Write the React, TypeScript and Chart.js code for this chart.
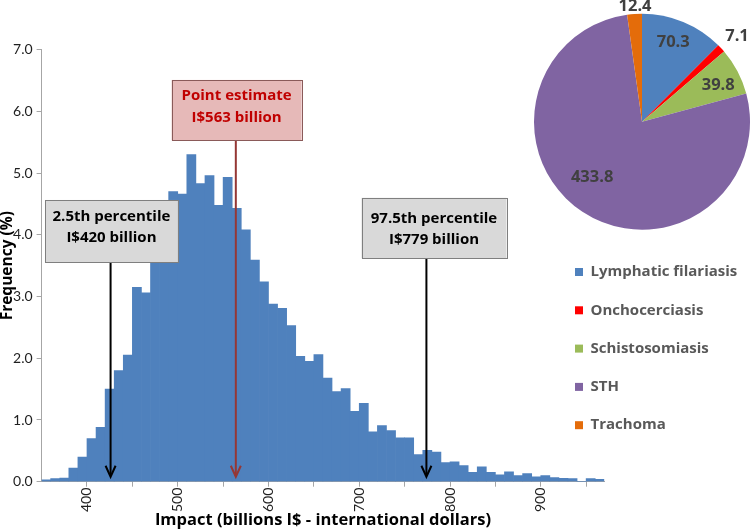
import React, { useEffect, useRef } from "react";
import { Chart, registerables } from "chart.js";

Chart.register(...registerables);

// ---------- Histogram data ----------
const BIN_LEFT_EDGES = [
  350, 360, 370, 380, 390, 400, 410, 420, 430, 440,
  450, 460, 470, 480, 490, 500, 510, 520, 530, 540,
  550, 560, 570, 580, 590, 600, 610, 620, 630, 640,
  650, 660, 670, 680, 690, 700, 710, 720, 730, 740,
  750, 760, 770, 780, 790, 800, 810, 820, 830, 840,
  850, 860, 870, 880, 890, 900, 910, 920, 930, 940,
  950, 960,
];
const BIN_WIDTH = 10;
const FREQUENCY = [
  0.03, 0.05, 0.06, 0.22, 0.4, 0.7, 0.88, 1.5, 1.8, 2.05,
  3.15, 3.06, 3.65, 4.15, 4.7, 4.66, 5.3, 4.83, 4.96, 4.48,
  4.93, 4.43, 4.08, 3.59, 3.24, 2.88, 2.81, 2.53, 2.03, 1.95,
  2.06, 1.68, 1.46, 1.51, 1.14, 1.27, 0.81, 0.91, 0.83, 0.71,
  0.71, 0.44, 0.51, 0.48, 0.31, 0.32, 0.26, 0.15, 0.24, 0.15,
  0.11, 0.16, 0.1, 0.13, 0.08, 0.1, 0.065, 0.055, 0.05, 0,
  0.05, 0.04,
];
const X_MIN = 350;
const X_MAX = 970;
const X_TICKS = [400, 450, 500, 550, 600, 650, 700, 750, 800, 850, 900, 950];
const Y_MIN = 0;
const Y_MAX = 7;
const X_TITLE = "Impact (billions I$ - international dollars)";
const Y_TITLE = "Frequency (%)";

// annotation texts and the impact values the arrows point at
const ANNOT_TEXT = [
  ["2.5th percentile", "I$420 billion"],
  ["Point estimate", "I$563 billion"],
  ["97.5th percentile", "I$779 billion"],
];
const ARROW_AT = [426, 564, 774];

// ---------- Pie data ----------
const PIE_LABELS = ["Lymphatic filariasis", "Onchocerciasis", "Schistosomiasis", "STH", "Trachoma"];
const PIE_VALUES = [70.3, 7.1, 39.8, 433.8, 12.4];
const PIE_COLORS = ["#4F81BD", "#FF0000", "#9BBB59", "#8064A2", "#E46C0A"];

// ---------- Styles / placement ----------
const FONT = "Lato, 'Open Sans', 'DejaVu Sans', sans-serif";
const BOLD_FONT = "'Open Sans', 'Noto Sans', 'DejaVu Sans', sans-serif";
const BOX_STYLE = [
  { x0: 353.7, x1: 500.2, y0: 3.56, y1: 4.565, fill: "#D9D9D9", stroke: "#7F7F7F", text: "#000000", arrow: "#000000", t1: 16.7 },
  { x0: 493.3, x1: 636.5, y0: 5.53, y1: 6.51, fill: "#E6B9B8", stroke: "#8A5A59", text: "#C00000", arrow: "#953735", t1: 16 },
  { x0: 702.5, x1: 862.2, y0: 3.62, y1: 4.6, fill: "#D9D9D9", stroke: "#7F7F7F", text: "#000000", arrow: "#000000", t1: 20.6 },
];
const ARROW_TIP = 0.08;
const PIE_LABEL_PLACE = [
  { r: 0.79, da: -1 },
  { r: 1.18, da: 1 },
  { r: 0.78, da: 2.6 },
  { r: 0.69, da: 8.5 },
  { r: 1.07, da: 0.5 },
];

const annotationPlugin = {
  id: "percentileAnnotations",
  afterDatasetsDraw(chart: any) {
    const { ctx } = chart;
    const xs = chart.scales.x;
    const ys = chart.scales.y;
    ctx.save();
    BOX_STYLE.forEach((b, i) => {
      const left = xs.getPixelForValue(b.x0);
      const right = xs.getPixelForValue(b.x1);
      const top = ys.getPixelForValue(b.y1);
      const bottom = ys.getPixelForValue(b.y0);
      // arrow
      const ax = xs.getPixelForValue(ARROW_AT[i]);
      const tip = ys.getPixelForValue(ARROW_TIP);
      ctx.strokeStyle = b.arrow;
      ctx.lineWidth = 2;
      ctx.lineCap = "butt";
      ctx.lineJoin = "miter";
      ctx.beginPath();
      ctx.moveTo(ax, bottom);
      ctx.lineTo(ax, tip - 1);
      ctx.stroke();
      ctx.beginPath();
      ctx.moveTo(ax - 5, tip - 11);
      ctx.lineTo(ax, tip);
      ctx.lineTo(ax + 5, tip - 11);
      ctx.stroke();
      // box
      ctx.fillStyle = b.fill;
      ctx.fillRect(left, top, right - left, bottom - top);
      ctx.strokeStyle = b.stroke;
      ctx.lineWidth = 1;
      ctx.strokeRect(Math.round(left) + 0.5, Math.round(top) + 0.5, Math.round(right - left), Math.round(bottom - top));
      // text
      ctx.fillStyle = b.text;
      ctx.font = `bold 15px ${BOLD_FONT}`;
      ctx.textAlign = "center";
      ctx.textBaseline = "middle";
      const cx = (left + right) / 2;
      ANNOT_TEXT[i].forEach((line, j) => {
        ctx.fillText(line, cx, top + b.t1 + j * 21.5);
      });
    });
    ctx.restore();
  },
};

const pieLabelPlugin = {
  id: "pieLabels",
  afterDatasetsDraw(chart: any) {
    const { ctx } = chart;
    const meta = chart.getDatasetMeta(0);
    ctx.save();
    ctx.font = `bold 16.5px ${BOLD_FONT}`;
    ctx.fillStyle = "#404040";
    ctx.textAlign = "center";
    ctx.textBaseline = "middle";
    meta.data.forEach((arc: any, i: number) => {
      const p = arc.getProps(["x", "y", "startAngle", "endAngle", "outerRadius"], true);
      const place = PIE_LABEL_PLACE[i];
      const mid = (p.startAngle + p.endAngle) / 2 + (place.da * Math.PI) / 180;
      const r = p.outerRadius * place.r;
      ctx.fillText(PIE_VALUES[i].toFixed(1), p.x + Math.cos(mid) * r, p.y + Math.sin(mid) * r);
    });
    ctx.restore();
  },
};

const pieLegendPlugin = {
  id: "pieLegend",
  afterDraw(chart: any) {
    const { ctx } = chart;
    const labels = chart.data.labels as string[];
    const colors = chart.data.datasets[0].backgroundColor as string[];
    ctx.save();
    ctx.font = `bold 15px ${BOLD_FONT}`;
    ctx.textAlign = "left";
    ctx.textBaseline = "middle";
    labels.forEach((lab, i) => {
      const y = 272 + i * 38.3;
      ctx.fillStyle = colors[i];
      ctx.fillRect(55, y - 4, 8, 8);
      ctx.fillStyle = "#595959";
      ctx.fillText(lab, 70.5, y);
    });
    ctx.restore();
  },
};

export default function App() {
  const histRef = useRef<HTMLCanvasElement>(null);
  const pieRef = useRef<HTMLCanvasElement>(null);

  useEffect(() => {
    const axisColor = "#A6A6A6";
    const hist = new Chart(histRef.current as HTMLCanvasElement, {
      type: "bar",
      data: {
        datasets: [
          {
            data: BIN_LEFT_EDGES.map((e, i) => ({ x: e + BIN_WIDTH / 2, y: FREQUENCY[i] })),
            backgroundColor: "#4F81BD",
            borderWidth: 0,
            barPercentage: 1,
            categoryPercentage: 1,
          } as any,
        ],
      },
      options: {
        responsive: false,
        animation: false,
        devicePixelRatio: 1,
        layout: { padding: { left: 0, top: 49.7, right: 145.7, bottom: 0 } },
        plugins: { legend: { display: false }, tooltip: { enabled: false } },
        scales: {
          x: {
            type: "linear",
            min: X_MIN,
            max: X_MAX,
            offset: false,
            afterBuildTicks: (s: any) => {
              s.ticks = X_TICKS.map((v) => ({ value: v }));
            },
            afterFit: (s: any) => {
              s.height = 47.3;
            },
            ticks: {
              autoSkip: false,
              minRotation: 90,
              maxRotation: 90,
              padding: 1,
              color: "#1F1F1F",
              font: { family: FONT, size: 14 },
              callback: (v: any) => (Number(v) % 100 === 0 ? String(v) : ""),
            },
            grid: { display: true, drawOnChartArea: false, drawTicks: true, tickLength: 5, color: axisColor, offset: false },
            border: { display: true, color: axisColor, width: 1 },
            title: {
              display: true,
              text: X_TITLE,
              color: "#000",
              font: { family: BOLD_FONT, size: 16.5, weight: "bold", lineHeight: 1 },
              padding: 0,
            },
          } as any,
          y: {
            min: Y_MIN,
            max: Y_MAX,
            afterFit: (s: any) => {
              s.width = 41.6;
            },
            ticks: {
              stepSize: 1,
              padding: 4,
              color: "#1F1F1F",
              font: { family: FONT, size: 14 },
              callback: (v: any) => Number(v).toFixed(1),
            },
            grid: { display: true, drawOnChartArea: false, drawTicks: true, tickLength: 5, color: axisColor },
            border: { display: true, color: axisColor, width: 1 },
            title: {
              display: true,
              text: Y_TITLE,
              color: "#000",
              font: { family: BOLD_FONT, size: 15.5, weight: "bold", lineHeight: 1 },
              padding: 0,
            },
          } as any,
        },
      },
      plugins: [annotationPlugin],
    });

    const pie = new Chart(pieRef.current as HTMLCanvasElement, {
      type: "pie",
      data: {
        labels: PIE_LABELS,
        datasets: [{ data: PIE_VALUES, backgroundColor: PIE_COLORS, borderWidth: 0 }],
      },
      options: {
        responsive: false,
        animation: false,
        devicePixelRatio: 1,
        layout: { padding: { left: 14, top: 13.7, right: 0, bottom: 215.3 } },
        plugins: { legend: { display: false }, tooltip: { enabled: false } },
      },
      plugins: [pieLabelPlugin, pieLegendPlugin],
    });

    return () => {
      hist.destroy();
      pie.destroy();
    };
  }, []);

  return (
    <div style={{ position: "absolute", left: 0, top: 0, width: 750, height: 529, background: "#ffffff" }}>
      <canvas ref={histRef} width={750} height={529} style={{ position: "absolute", left: 0, top: 0 }} />
      <canvas ref={pieRef} width={230} height={445} style={{ position: "absolute", left: 520, top: 0 }} />
    </div>
  );
}
